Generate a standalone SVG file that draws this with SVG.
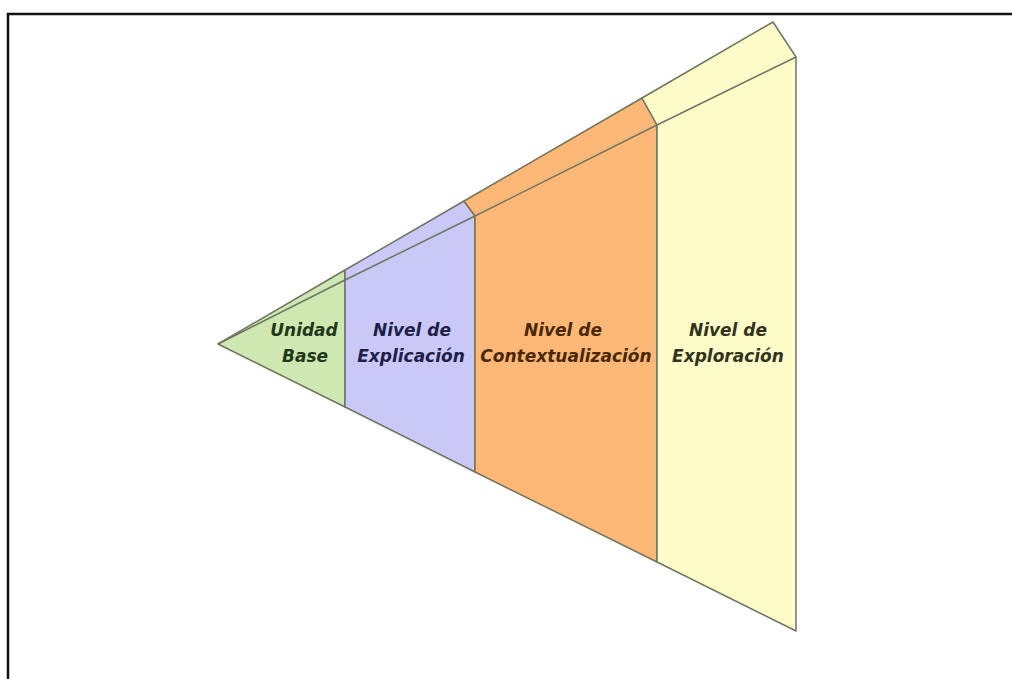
<svg xmlns="http://www.w3.org/2000/svg" width="1012" height="679" viewBox="0 0 1012 679">
<style>
.sec{stroke:#6e7563;stroke-width:1.5;stroke-linejoin:round}
.lbl{font-family:"DejaVu Sans",Verdana,sans-serif;font-weight:bold;font-style:italic;font-size:17px;text-anchor:middle}
</style>
<rect width="1012" height="679" fill="#ffffff"/>
<path d="M8 679 V14 H1012" fill="none" stroke="#111" stroke-width="2.5"/>
<g id="unidad-base">
<polygon class="sec" points="218,344 345,270 345,407" fill="#cfe8b2"/>
<line class="sec" x1="218" y1="344" x2="345" y2="280"/>
<text class="lbl" fill="#22361a" x="304" y="336">Unidad</text>
<text class="lbl" fill="#22361a" x="305" y="362">Base</text>
</g>
<g id="nivel-explicacion">
<polygon class="sec" points="345,270 464,201 475,216 475,472 345,407" fill="#c9c8f6"/>
<line class="sec" x1="345" y1="280" x2="475" y2="216"/>
<text class="lbl" fill="#1e2048" x="412" y="336">Nivel de</text>
<text class="lbl" fill="#1e2048" x="411" y="362">Explicación</text>
</g>
<g id="nivel-contextualizacion">
<polygon class="sec" points="464,201 642,98 657,125 657,562 475,472 475,216" fill="#fdb878"/>
<line class="sec" x1="475" y1="216" x2="657" y2="125"/>
<text class="lbl" fill="#4a2808" x="563" y="336">Nivel de</text>
<text class="lbl" fill="#4a2808" x="566" y="362">Contextualización</text>
</g>
<g id="nivel-exploracion">
<polygon class="sec" points="642,98 773,22 796,57 796,631 657,562 657,125" fill="#fefcc9"/>
<line class="sec" x1="657" y1="125" x2="796" y2="57"/>
<text class="lbl" fill="#32331c" x="728" y="336">Nivel de</text>
<text class="lbl" fill="#32331c" x="728" y="362">Exploración</text>
</g>
<g id="connectors"></g>
</svg>
